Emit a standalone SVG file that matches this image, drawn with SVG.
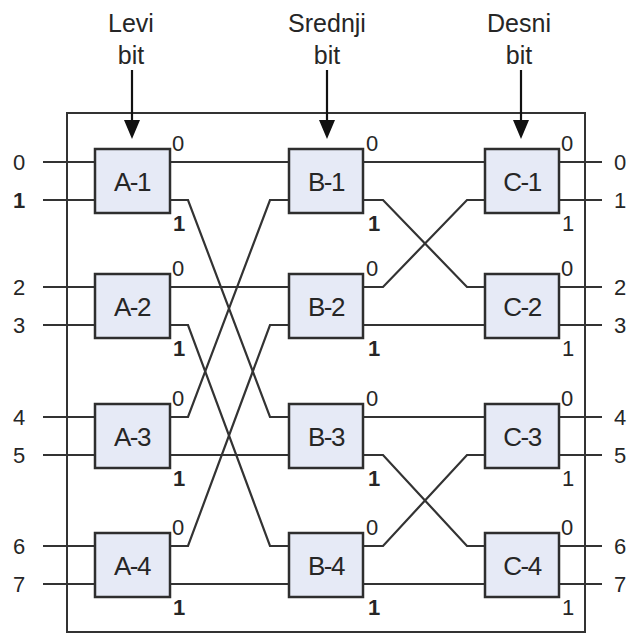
<svg xmlns="http://www.w3.org/2000/svg" width="628" height="635" viewBox="0 0 628 635">
<style>
.t{font-family:"Liberation Sans",Arial,sans-serif;fill:#262626}
.hd{font-size:25px;text-anchor:middle}
.bx{fill:#e6eaf6;stroke:#2e2e2e;stroke-width:2.5}
.bl{font-size:26px;text-anchor:middle;letter-spacing:-1.5px}
.pl{font-size:22px}
.nl{font-size:22px;text-anchor:middle}
.b{font-weight:bold}
.ln{fill:none;stroke:#333;stroke-width:2.2}
.ar{fill:#111;stroke:none}
</style>
<rect x="0" y="0" width="628" height="635" fill="#fff"/>
<g id="headers">
<text class="t hd" x="131" y="32">Levi</text>
<text class="t hd" x="131" y="64">bit</text>
<text class="t hd" x="327" y="32">Srednji</text>
<text class="t hd" x="327" y="64">bit</text>
<text class="t hd" x="519" y="32">Desni</text>
<text class="t hd" x="519" y="64">bit</text>
</g>
<g id="frame">
<rect x="67" y="113" width="518" height="519" fill="none" stroke="#333" stroke-width="2"/>
</g>
<g id="connectors" class="ln">
<line x1="132" y1="70" x2="132" y2="121" stroke="#111"/>
<line x1="327" y1="70" x2="327" y2="121" stroke="#111"/>
<line x1="521" y1="70" x2="521" y2="121" stroke="#111"/>
<path class="ar" d="M124,120 L140,120 L132,139 Z M319,120 L335,120 L327,139 Z M513,120 L529,120 L521,139 Z"/>
<path d="M43,162H95M43,200H95M43,287H95M43,325H95M43,417H95M43,455H95M43,546H95M43,584H95"/>
<path d="M559,162H602M559,200H602M559,287H602M559,325H602M559,417H602M559,455H602M559,546H602M559,584H602"/>
<path d="M170,162H289"/>
<path d="M170,200H188L270,417H289"/>
<path d="M170,417H188L270,200H289"/>
<path d="M170,287H289"/>
<path d="M170,325H188L270,546H289"/>
<path d="M170,546H188L270,325H289"/>
<path d="M170,455H289"/>
<path d="M170,584H289"/>
<path d="M363,162H485"/>
<path d="M363,200H383L467,287H485"/>
<path d="M363,287H383L467,200H485"/>
<path d="M363,325H485"/>
<path d="M363,417H485"/>
<path d="M363,455H383L467,546H485"/>
<path d="M363,546H383L467,455H485"/>
<path d="M363,584H485"/>
</g>
<g id="inputs">
<text class="t nl" x="19" y="170">0</text>
<text class="t nl b" x="19" y="208">1</text>
<text class="t nl" x="19" y="295">2</text>
<text class="t nl" x="19" y="333">3</text>
<text class="t nl" x="19" y="425">4</text>
<text class="t nl" x="19" y="463">5</text>
<text class="t nl" x="19" y="554">6</text>
<text class="t nl" x="19" y="592">7</text>
</g>
<g id="outputs">
<text class="t nl" x="620" y="170">0</text>
<text class="t nl" x="620" y="208">1</text>
<text class="t nl" x="620" y="295">2</text>
<text class="t nl" x="620" y="333">3</text>
<text class="t nl" x="620" y="425">4</text>
<text class="t nl" x="620" y="463">5</text>
<text class="t nl" x="620" y="554">6</text>
<text class="t nl" x="620" y="592">7</text>
</g>
<g id="A-1"><rect class="bx" x="95" y="149" width="75" height="64"/><text class="t bl" x="132" y="191">A-1</text><text class="t pl" x="172" y="151">0</text><text class="t pl b" x="173" y="231">1</text></g>
<g id="A-2"><rect class="bx" x="95" y="274" width="75" height="64"/><text class="t bl" x="132" y="316">A-2</text><text class="t pl" x="172" y="276">0</text><text class="t pl b" x="173" y="356">1</text></g>
<g id="A-3"><rect class="bx" x="95" y="404" width="75" height="64"/><text class="t bl" x="132" y="446">A-3</text><text class="t pl" x="172" y="406">0</text><text class="t pl b" x="173" y="486">1</text></g>
<g id="A-4"><rect class="bx" x="95" y="533" width="75" height="64"/><text class="t bl" x="132" y="575">A-4</text><text class="t pl" x="172" y="535">0</text><text class="t pl b" x="173" y="615">1</text></g>
<g id="B-1"><rect class="bx" x="289" y="149" width="74" height="64"/><text class="t bl" x="326" y="191">B-1</text><text class="t pl" x="366" y="151">0</text><text class="t pl b" x="368" y="231">1</text></g>
<g id="B-2"><rect class="bx" x="289" y="274" width="74" height="64"/><text class="t bl" x="326" y="316">B-2</text><text class="t pl" x="366" y="276">0</text><text class="t pl b" x="368" y="356">1</text></g>
<g id="B-3"><rect class="bx" x="289" y="404" width="74" height="64"/><text class="t bl" x="326" y="446">B-3</text><text class="t pl" x="366" y="406">0</text><text class="t pl b" x="368" y="486">1</text></g>
<g id="B-4"><rect class="bx" x="289" y="533" width="74" height="64"/><text class="t bl" x="326" y="575">B-4</text><text class="t pl" x="366" y="535">0</text><text class="t pl b" x="368" y="615">1</text></g>
<g id="C-1"><rect class="bx" x="485" y="149" width="74" height="64"/><text class="t bl" x="522" y="191">C-1</text><text class="t pl" x="561" y="151">0</text><text class="t pl" x="562" y="231">1</text></g>
<g id="C-2"><rect class="bx" x="485" y="274" width="74" height="64"/><text class="t bl" x="522" y="316">C-2</text><text class="t pl" x="561" y="276">0</text><text class="t pl" x="562" y="356">1</text></g>
<g id="C-3"><rect class="bx" x="485" y="404" width="74" height="64"/><text class="t bl" x="522" y="446">C-3</text><text class="t pl" x="561" y="406">0</text><text class="t pl" x="562" y="486">1</text></g>
<g id="C-4"><rect class="bx" x="485" y="533" width="74" height="64"/><text class="t bl" x="522" y="575">C-4</text><text class="t pl" x="561" y="535">0</text><text class="t pl" x="562" y="615">1</text></g>
</svg>
